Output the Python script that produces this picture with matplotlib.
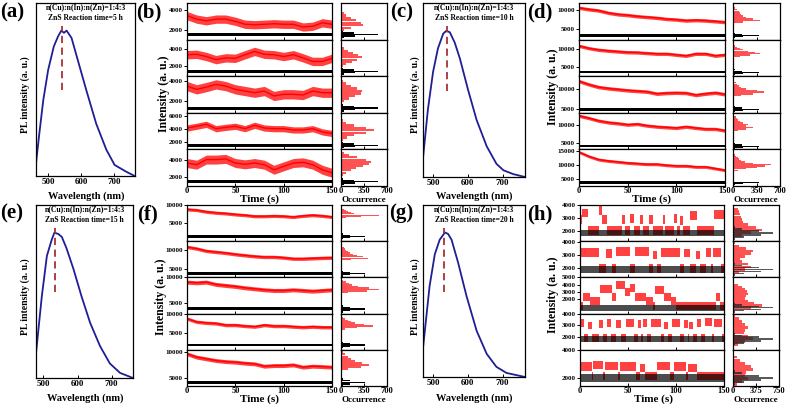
import numpy as np
import matplotlib.pyplot as plt

plt.rcParams['font.family'] = ['Liberation Serif', 'DejaVu Serif']
plt.rcParams['font.weight'] = 'bold'
plt.rcParams['axes.linewidth'] = 0.9
plt.rcParams['xtick.major.width'] = 0.7
plt.rcParams['ytick.major.width'] = 0.7

# ---------------- PL spectra (a, c, e, g) ----------------
wl_a = [463, 473, 485, 500, 517, 530, 540, 548, 556, 571, 591, 616, 646, 677, 702, 737, 763]
pl_a = [0.087, 0.29, 0.52, 0.73, 0.89, 0.96, 1.0, 0.985, 1.0, 0.95, 0.79, 0.59, 0.36, 0.18, 0.076, 0.03, 0.0]
wl_c = [471, 485, 500, 514, 529, 538, 548, 562, 577, 600, 625, 654, 682, 702, 730, 764]
pl_c = [0.13, 0.46, 0.72, 0.88, 0.98, 1.0, 0.99, 0.92, 0.81, 0.60, 0.39, 0.21, 0.09, 0.046, 0.02, 0.0]
wl_e = [478, 495, 510, 524, 532, 544, 554, 568, 588, 612, 637, 666, 695, 725, 763]
pl_e = [0.17, 0.56, 0.84, 0.95, 1.0, 0.99, 0.97, 0.89, 0.75, 0.56, 0.38, 0.22, 0.10, 0.035, 0.0]
wl_g = [471, 490, 505, 519, 534, 543, 553, 572, 596, 625, 654, 682, 711, 764]
pl_g = [0.20, 0.63, 0.85, 0.95, 1.0, 0.99, 0.95, 0.79, 0.56, 0.32, 0.16, 0.07, 0.028, 0.0]
peak_wl = [543, 541, 534, 532]
reaction_time = ['5 h', '10 h', '15 h', '20 h']

# ---------------- blinking traces ----------------
t_grid = [0, 10, 20, 30, 40, 50, 60, 70, 80, 90, 100, 110, 120, 130, 140, 150]

b_red = [
    [3470, 3120, 2950, 3120, 3120, 2900, 2600, 2550, 2600, 2650, 2600, 2600, 2320, 2400, 2750, 2600],
    [3300, 3350, 3100, 2750, 2950, 2900, 3300, 3670, 3350, 3300, 3100, 3300, 2950, 2550, 2550, 2900],
    [3500, 3170, 3400, 3670, 3500, 3170, 3000, 2830, 3000, 2500, 2670, 2670, 2600, 3000, 2830, 2830],
    [4100, 4370, 4670, 4000, 4200, 4370, 4000, 4520, 4100, 4000, 4000, 3800, 3800, 4000, 3500, 3260],
    [3600, 3410, 4000, 4000, 4080, 3600, 3450, 3600, 3410, 2820, 3220, 3600, 3680, 3410, 2820, 2470],
]
b_red_w = [420, 470, 470, 480, 520]
b_black = [1550, 1450, 1270, 1450, 1450]
b_black_w = [150, 160, 150, 220, 170]
b_ylim = [(1050, 4750), (890, 5000), (800, 4500), (800, 6450), (940, 5180)]
b_ticks = [[2000, 4000], [2000, 4000], [2000, 4000], [2000, 4000, 6000], [2000, 4000]]
b_hr_c = [
    [2000, 2250, 2500, 2750, 3000, 3250, 3500, 3750, 4000],
    [2000, 2250, 2500, 2750, 3000, 3250, 3500, 3750, 4000, 4250],
    [2000, 2250, 2500, 2750, 3000, 3250, 3500, 3750, 4000],
    [2250, 2625, 3000, 3375, 3750, 4125, 4500, 4875, 5250],
    [2250, 2500, 2750, 3000, 3250, 3500, 3750, 4000, 4250, 4500, 4750],
]
b_hr_n = [
    [40, 150, 330, 300, 230, 150, 80, 40, 15],
    [30, 80, 160, 250, 315, 260, 180, 100, 40, 15],
    [40, 120, 220, 300, 325, 240, 150, 70, 25],
    [30, 90, 200, 380, 500, 380, 200, 80, 25],
    [30, 80, 150, 230, 330, 430, 455, 380, 250, 120, 40],
]
b_hk_c = [
    [1250, 1400, 1550, 1700, 1850],
    [1150, 1300, 1450, 1600, 1750],
    [970, 1120, 1270, 1420, 1570],
    [1050, 1250, 1450, 1650, 1850],
    [1150, 1300, 1450, 1600, 1750],
]
b_hk_n = [40, 220, 570, 200, 30]

d_red = [
    [10600, 10200, 9900, 9300, 8900, 8700, 8400, 8200, 8000, 7700, 7550, 7300, 7400, 7300, 7100, 6900],
    [10700, 10080, 9650, 9400, 9200, 9000, 8950, 8770, 8600, 8600, 8330, 8070, 8600, 8600, 8070, 8330],
    [12000, 11170, 10500, 10170, 9920, 9670, 9500, 9330, 8830, 9000, 9080, 9000, 8500, 8830, 9080, 8670],
    [12370, 11760, 11050, 10600, 10340, 10000, 10180, 9740, 9470, 9300, 9130, 9470, 9130, 8860, 8860, 8420],
    [14750, 13210, 12040, 11550, 11190, 10830, 10600, 10360, 10360, 10000, 9760, 9760, 9400, 9400, 8810, 8210],
]
d_red_w = [450, 450, 450, 450, 550]
d_black = [3400, 3700, 4920, 4290, 3680]
d_black_w = [350, 350, 350, 350, 450]
d_ylim = [(2370, 11840), (2630, 12370), (4000, 13250), (3420, 13160), (2500, 15700)]
d_ticks = [[5000, 10000], [5000, 10000], [5000, 10000], [5000, 10000], [5000, 10000, 15000]]
d_hr_c = [
    [6900, 7300, 7700, 8100, 8500, 8900, 9300, 9700, 10100, 10500],
    [7900, 8250, 8600, 8950, 9300, 9650, 10000, 10350, 10700],
    [8400, 8800, 9200, 9600, 10000, 10400, 10800, 11200, 11600, 12000],
    [8400, 8800, 9200, 9600, 10000, 10400, 10800, 11200, 11600, 12000, 12400],
    [8200, 8700, 9200, 9700, 10200, 10700, 11200, 11700, 12200, 12700, 13200, 13700, 14200],
]
d_hr_n = [
    [150, 400, 300, 200, 150, 120, 110, 90, 60, 30],
    [100, 250, 400, 330, 220, 150, 100, 60, 30],
    [120, 300, 460, 350, 200, 120, 90, 60, 40, 20],
    [80, 200, 300, 200, 230, 150, 110, 80, 60, 40, 20],
    [80, 200, 350, 480, 565, 300, 180, 120, 90, 70, 50, 30, 20],
]
d_hk_c = [
    [2800, 3100, 3400, 3700, 4000],
    [3100, 3400, 3700, 4000, 4300],
    [4320, 4620, 4920, 5220, 5520],
    [3690, 3990, 4290, 4590, 4890],
    [3080, 3380, 3680, 3980, 4280],
]
d_hk_n = [30, 150, 385, 140, 25]

f_red = [
    [8800, 8600, 8140, 7860, 7680, 7400, 7200, 6900, 6900, 7000, 6900, 6700, 7000, 7200, 7000, 6700],
    [10870, 10440, 9820, 9560, 9300, 8950, 8680, 8420, 8250, 8250, 8070, 7800, 7800, 7900, 8000, 8070],
    [9060, 8930, 9060, 8600, 8400, 8200, 7930, 7730, 7530, 7400, 7400, 7530, 7400, 7270, 7400, 7530],
    [8680, 7830, 7580, 7430, 7000, 7000, 6750, 6580, 7000, 6750, 6750, 6580, 6430, 6580, 6430, 6430],
    [9720, 9080, 8750, 8420, 8220, 8110, 7910, 7780, 7330, 7450, 7450, 7580, 7140, 7330, 7250, 7140],
]
f_red_w = [450, 450, 400, 450, 380]
f_black = [1390, 3860, 3730, 1750, 4220]
f_black_w = [400, 380, 300, 380, 290]
f_ylim = [(0, 10000), (2900, 12370), (2800, 10000), (500, 10000), (3500, 10500)]
f_ticks = [[5000, 10000]] * 5
f_hr_c = [
    [6500, 6750, 7000, 7250, 7500, 7750, 8000, 8250, 8500, 8750, 9000],
    [7600, 7940, 8280, 8620, 8960, 9300, 9640, 9980, 10320, 10660, 11000],
    [7000, 7300, 7600, 7900, 8200, 8500, 8800, 9100, 9400],
    [6000, 6375, 6750, 7125, 7500, 7875, 8250, 8625, 9000],
    [6800, 7200, 7600, 8000, 8400, 8800, 9200, 9600, 10000],
]
f_hr_n = [
    [80, 300, 585, 450, 300, 200, 150, 100, 70, 40, 20],
    [150, 410, 330, 250, 180, 140, 110, 80, 60, 40, 20],
    [100, 400, 585, 420, 260, 170, 120, 70, 30],
    [60, 250, 490, 350, 220, 150, 100, 60, 25],
    [100, 300, 430, 320, 220, 150, 100, 60, 25],
]
f_hk_c = [
    [790, 1090, 1390, 1690, 1990],
    [3260, 3560, 3860, 4160, 4460],
    [3130, 3430, 3730, 4030, 4330],
    [1150, 1450, 1750, 2050, 2350],
    [3620, 3920, 4220, 4520, 4820],
]
f_hk_n = [30, 140, 365, 130, 25]

# (h): on-state intervals (start s, end s, level) over an off level
h_on = [
    [(0, 2, 2900), (2, 8, 3400), (20, 23, 3600), (23, 28, 2900), (44, 47, 2900), (52, 56, 3000),
     (62, 66, 2900), (72, 76, 2900), (86, 89, 2900), (98, 101, 3000), (104, 107, 2800),
     (115, 122, 3200), (140, 150, 3300)],
    [(1, 20, 3200), (27, 33, 3100), (38, 52, 3250), (57, 72, 3250), (76, 80, 3000), (84, 104, 3200),
     (108, 115, 3150), (121, 125, 3000), (131, 136, 3200), (139, 147, 3200)],
    [(3, 10, 2300), (10, 21, 1800), (21, 33, 3450), (33, 38, 2300), (38, 47, 3900), (47, 52, 3000),
     (52, 57, 3600), (57, 69, 2300), (69, 76, 1800), (78, 87, 3200), (87, 95, 2300), (95, 100, 1800),
     (142, 146, 2300)],
    [(0, 4, 3200), (8, 12, 3000), (20, 24, 3100), (28, 32, 3200), (37, 43, 3100), (48, 56, 3200),
     (60, 64, 3100), (66, 70, 3200), (74, 84, 3200), (88, 92, 3000), (96, 104, 3200), (108, 112, 3100),
     (114, 118, 3000), (122, 126, 3200), (130, 138, 3300), (140, 148, 3200)],
    [(0, 12, 2800), (14, 24, 2900), (26, 40, 2850), (42, 58, 2800), (62, 68, 2700), (80, 94, 2850),
     (98, 110, 2800), (112, 122, 2700)],
]
h_off = [2080, 2000, 1000, 1950, 2100]
h_red_w = [330, 330, 550, 330, 300]
h_black = [1850, 1900, 800, 1850, 2000]
h_black_w = [240, 240, 450, 260, 280]
h_ylim = [(1250, 4000), (1300, 4050), (0, 5000), (950, 4000), (1400, 4000)]
h_ticks = [[2000, 3000, 4000], [2000, 3000, 4000], [2000, 3000, 4000, 5000], [2000, 3000, 4000], [2000, 4000]]
h_hr_c = [
    [1700, 1900, 2100, 2300, 2500, 2700, 2900, 3100, 3300, 3500, 3700],
    [1700, 1900, 2100, 2300, 2500, 2700, 2900, 3100, 3300, 3500, 3700, 3900],
    [800, 1120, 1440, 1760, 2080, 2400, 2720, 3040, 3360, 3680, 4000],
    [1400, 1640, 1880, 2120, 2360, 2600, 2840, 3080, 3320, 3560, 3800],
    [1500, 1720, 1940, 2160, 2380, 2600, 2820, 3040, 3260, 3480, 3700],
]
h_hr_n = [
    [150, 300, 470, 380, 250, 170, 150, 130, 110, 100, 80],
    [100, 200, 300, 250, 150, 120, 200, 300, 330, 220, 100, 40],
    [300, 470, 350, 250, 200, 220, 240, 230, 200, 150, 80],
    [80, 200, 330, 250, 180, 200, 240, 200, 150, 90, 40],
    [60, 150, 240, 200, 220, 330, 300, 200, 120, 60, 20],
]
h_hk_c = [
    [1400, 1550, 1700, 1850, 2000, 2150, 2300],
    [1450, 1600, 1750, 1900, 2050, 2200, 2350],
    [200, 400, 600, 800, 1000, 1200, 1400],
    [1400, 1550, 1700, 1850, 2000, 2150, 2300],
    [1550, 1700, 1850, 2000, 2150, 2300, 2450],
]
h_hk_n = [40, 180, 450, 650, 420, 150, 40]

W, H = 787, 404
fig = plt.figure(figsize=(W / 100, H / 100), dpi=100)


def box(x0, y0, x1, y1):
    # axes placed by pixel corners, origin at top-left
    return fig.add_axes([x0 / W, 1 - y1 / H, (x1 - x0) / W, (y1 - y0) / H])


def ftext(x, y, s, **kw):
    fig.text(x / W, 1 - y / H, s, ha='center', va='center', **kw)


def pl_panel(rect, wl, pl, xlim, peak, rtime):
    ax = box(*rect)
    ax.plot(wl, pl, color='#1e1e96', lw=1.3)
    ax.plot([peak, peak], [0.59, 1.03], color='#a83232', lw=1.3, ls=(0, (4, 2.5)))
    ax.set_xlim(*xlim)
    ax.set_ylim(0, 1.19)
    ax.set_yticks([])
    ax.set_xticks([500, 600, 700])
    ax.tick_params(axis='x', direction='in', length=2, labelsize=6.5, pad=1.5)
    ax.text(0.5, 0.977, 'n(Cu):n(In):n(Zn)=1:4:3', transform=ax.transAxes,
            ha='center', va='center', fontsize=5.5)
    ax.text(0.5, 0.913, 'ZnS Reaction time=' + rtime, transform=ax.transAxes,
            ha='center', va='center', fontsize=5.5)
    return ax


def steps(segs, off):
    t, y = [0], [off]
    for s, e, lv in segs:
        t += [s, s, e, e]
        y += [off, lv, lv, off]
    t.append(150)
    y.append(off)
    return np.array(t, float), np.array(y, float)


def trace_block(xa, xh, top, bot, reds, blacks, black_w, ylims, yticks,
                hr_c, hr_n, hk_c, hk_n, hmax, hlabels, blink=False):
    rh = (bot - top) / 5
    for i in range(5):
        y0 = top + i * rh
        ax = box(xa[0], y0, xa[1], y0 + rh)
        t, y, w = reds[i]
        ax.fill_between(t, y - w, y + w, color='#ff2020', lw=0, alpha=0.85)
        if not blink:
            ax.plot(t, y, color='#ff0000', lw=1.0)
        ax.fill_between([0, 150], blacks[i] - black_w[i], blacks[i] + black_w[i],
                        color='black', lw=0, alpha=0.7 if blink else 1)
        ax.set_xlim(0, 150)
        ax.set_ylim(*ylims[i])
        ax.set_yticks(yticks[i])
        ax.tick_params(axis='y', direction='out', length=2, labelsize=5, pad=0.8)
        ax.set_xticks([0, 50, 100, 150])
        ax.tick_params(axis='x', direction='in', length=2, labelsize=6, pad=0.8)
        if i < 4:
            ax.tick_params(axis='x', labelbottom=False)

        hx = box(xh[0], y0, xh[1], y0 + rh)
        c = np.array(hr_c[i], float)
        hx.barh(c, hr_n[i], height=np.diff(c).mean() * 0.95, color='#ff3535',
                alpha=0.85, lw=0)
        k = np.array(hk_c[i], float)
        hx.barh(k, hk_n, height=np.diff(k).mean() * 0.95,
                color='#222222' if blink else 'black', alpha=0.75 if blink else 1, lw=0)
        hx.set_ylim(*ylims[i])
        hx.set_xlim(0, hmax)
        hx.set_yticks([])
        hx.set_xticks([0, hmax / 2, hmax])
        hx.set_xticklabels(hlabels)
        hx.tick_params(axis='x', direction='in', length=2, labelsize=6, pad=0.8)
        if i < 4:
            hx.tick_params(axis='x', labelbottom=False)


# PL panels
pl_panel((36, 3, 135, 176), wl_a, pl_a, (463, 764), peak_wl[0], reaction_time[0])
pl_panel((423, 3, 525, 177), wl_c, pl_c, (471, 764), peak_wl[1], reaction_time[1])
pl_panel((36, 205, 133, 378), wl_e, pl_e, (478, 763), peak_wl[2], reaction_time[2])
pl_panel((423, 205, 525, 377), wl_g, pl_g, (471, 764), peak_wl[3], reaction_time[3])

# trace panels
tg = np.array(t_grid, float)
trace_block((187, 332), (341, 387), 3, 186,
            [(tg, np.array(r, float), w) for r, w in zip(b_red, b_red_w)],
            b_black, b_black_w, b_ylim, b_ticks, b_hr_c, b_hr_n, b_hk_c, b_hk_n,
            700, ['0', '350', '700'])
trace_block((579, 725), (733, 780), 3, 186,
            [(tg, np.array(r, float), w) for r, w in zip(d_red, d_red_w)],
            d_black, d_black_w, d_ylim, d_ticks, d_hr_c, d_hr_n, d_hk_c, d_hk_n,
            700, ['0', '350', '700'])
trace_block((187, 332), (341, 387), 205, 386,
            [(tg, np.array(r, float), w) for r, w in zip(f_red, f_red_w)],
            f_black, f_black_w, f_ylim, f_ticks, f_hr_c, f_hr_n, f_hk_c, f_hk_n,
            700, ['0', '350', '700'])
h_reds = []
for segs, off, w in zip(h_on, h_off, h_red_w):
    t, y = steps(segs, off)
    h_reds.append((t, y, w))
trace_block((580, 724), (733, 779), 205, 386, h_reds,
            h_black, h_black_w, h_ylim, h_ticks, h_hr_c, h_hr_n, h_hk_c, h_hk_n,
            750, ['0', '375', '750'], blink=True)

# panel letters
for s, x, y in [('(a)', 12, 12), ('(b)', 149, 12), ('(c)', 402, 12), ('(d)', 540, 12),
                ('(e)', 12, 213), ('(f)', 148, 214), ('(g)', 401, 213), ('(h)', 540, 214)]:
    ftext(x, y, s, fontsize=15)

# axis titles
for x, y in [(25, 95), (415, 95), (25, 297), (415, 297)]:
    ftext(x, y, 'PL intensity (a. u.)', fontsize=7, rotation=90)
for x, y in [(86, 196), (474, 196), (85, 398), (474, 398)]:
    ftext(x, y, 'Wavelength (nm)', fontsize=7.5)
for x, y in [(164, 94), (553, 87), (161, 297), (553, 295)]:
    ftext(x, y, 'Intensity (a. u.)', fontsize=8.5, rotation=90)
for x, y in [(260, 199.5), (652, 199.5), (260, 399.5), (653, 399.5)]:
    ftext(x, y, 'Time (s)', fontsize=8)
for x, y in [(364, 199.5), (756, 199.5), (364, 399.5), (756, 399.5)]:
    ftext(x, y, 'Occurrence', fontsize=6.5)

fig.savefig('out.png', dpi=100)
